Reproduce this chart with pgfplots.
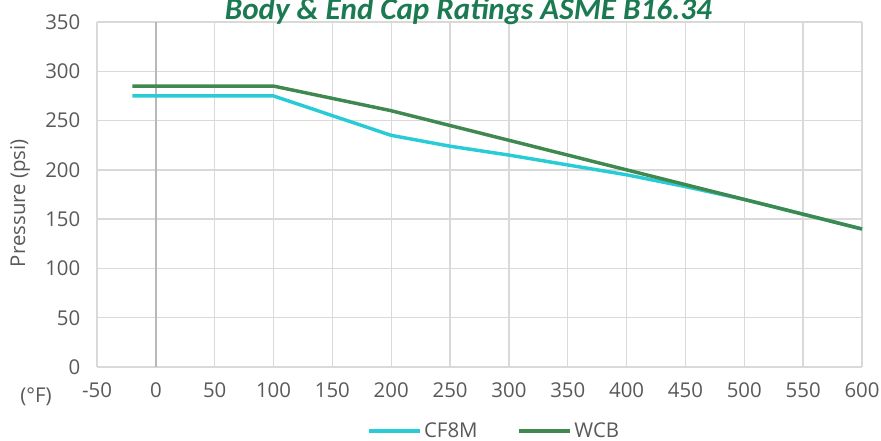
\documentclass[border=0pt]{standalone}
\usepackage{fontspec}
\setmainfont{Open Sans}
\newfontfamily\ttlfont{Carlito}
\usepackage{pgfplots}
\pgfplotsset{compat=1.18}
\definecolor{cfm}{RGB}{41,204,214}
\definecolor{wcb}{RGB}{63,137,80}
\definecolor{ttl}{RGB}{27,122,82}
\definecolor{lbl}{RGB}{89,89,89}
\definecolor{grd}{RGB}{217,217,217}
\begin{document}
\begin{tikzpicture}
\begin{axis}[
  scale only axis, width=573.75pt, height=258.75pt,
  xmin=-50, xmax=600, ymin=0, ymax=350,
  xtick={-50,0,...,600}, ytick={0,50,...,350},
  grid=major, grid style={grd, line width=1pt},
  extra x ticks={0}, extra x tick labels={},
  extra x tick style={grid style={color=black!28, line width=1.1pt}},
  axis line style={draw=none},
  major tick length=0pt,
  /pgf/number format/assume math mode=true,
  tick label style={font=\fontsize{15.3}{18}\selectfont, text=lbl},
  xticklabel style={yshift=-8pt},
  yticklabel style={xshift=-9pt},
  ylabel={Pressure (psi)},
  ylabel style={font=\fontsize{15.3}{18}\selectfont, text=lbl, at={(axis description cs:-0.1007,0.475)}, anchor=center},
  legend columns=2,
  legend style={draw=none, fill=none, at={(axis description cs:0.353,-0.186)}, anchor=west, font=\fontsize{15.3}{18}\selectfont, text=lbl, inner sep=0pt, /tikz/every even column/.append style={column sep=28pt}},
  legend image code/.code={\draw[#1, line width=2.6pt] (0pt,0pt) -- (38pt,0pt);},
  clip=false,
]
\addplot[cfm, line width=2.6pt] coordinates {(-20,275) (100,275) (150,255) (200,235) (250,224) (300,215) (350,205) (400,195) (450,183) (500,170) (550,155) (600,140)};
\addlegendentry{CF8M}
\addplot[wcb, line width=2.6pt] coordinates {(-20,285) (100,285) (200,260) (300,230) (400,200) (500,170) (600,140)};
\addlegendentry{WCB}
\node[font=\fontsize{15.3}{18}\selectfont, text=lbl, anchor=center] at (axis description cs:-0.0797,-0.087) {(°F)};
\end{axis}
\node[font=\fontsize{23.3}{27}\selectfont\ttlfont\bfseries\itshape, text=ttl, anchor=base] at (278.5pt,261pt) {Body \& End Cap Ratings ASME B16.34};
\pgfresetboundingbox
\path (-72.75pt,-54.75pt) rectangle (588pt,275.25pt);
\end{tikzpicture}
\end{document}
